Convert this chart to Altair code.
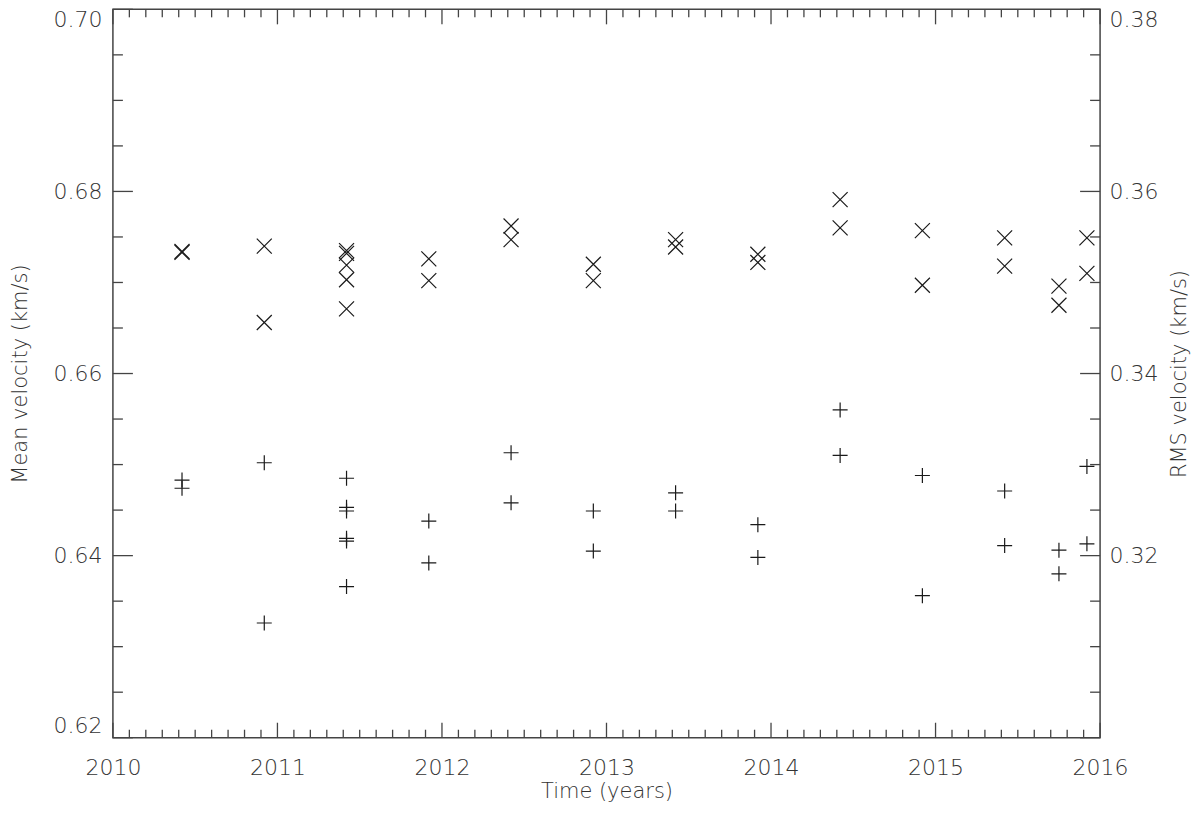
import altair as alt
import pandas as pd

# --- data ---
x_years = [2010.42, 2010.42,
           2010.92, 2010.92,
           2011.42, 2011.42, 2011.42, 2011.42, 2011.42,
           2011.92, 2011.92,
           2012.42, 2012.42,
           2012.92, 2012.92,
           2013.42, 2013.42,
           2013.92, 2013.92,
           2014.42, 2014.42,
           2014.92, 2014.92,
           2015.42, 2015.42,
           2015.75, 2015.75,
           2015.92, 2015.92]
mean_velocity = [0.6734, 0.6733,
                 0.6740, 0.6656,
                 0.6735, 0.6732, 0.6719, 0.6703, 0.6671,
                 0.6726, 0.6702,
                 0.6762, 0.6747,
                 0.6720, 0.6702,
                 0.6747, 0.6739,
                 0.6731, 0.6722,
                 0.6791, 0.6760,
                 0.6757, 0.6697,
                 0.6749, 0.6718,
                 0.6696, 0.6675,
                 0.6749, 0.6710]

p_years = [2010.42, 2010.42,
           2010.92, 2010.92,
           2011.42, 2011.42, 2011.42, 2011.42, 2011.42, 2011.42,
           2011.92, 2011.92,
           2012.42, 2012.42,
           2012.92, 2012.92,
           2013.42, 2013.42,
           2013.92, 2013.92,
           2014.42, 2014.42,
           2014.92, 2014.92,
           2015.42, 2015.42,
           2015.75, 2015.75,
           2015.92, 2015.92]
rms_velocity = [0.3283, 0.3274,
                0.3302, 0.3126,
                0.3285, 0.3253, 0.3249, 0.3219, 0.3216, 0.3166,
                0.3238, 0.3192,
                0.3313, 0.3258,
                0.3249, 0.3205,
                0.3269, 0.3249,
                0.3234, 0.3198,
                0.3360, 0.3310,
                0.3288, 0.3156,
                0.3271, 0.3211,
                0.3206, 0.3180,
                0.3298, 0.3213]

x_major = [2010, 2011, 2012, 2013, 2014, 2015, 2016]
x_minor = [round(y + k / 10, 1) for y in range(2010, 2016) for k in range(1, 10)]
y_major = [0.62, 0.64, 0.66, 0.68, 0.70]
y_minor = [0.625, 0.63, 0.635, 0.645, 0.65, 0.655, 0.665, 0.67, 0.675, 0.685, 0.69, 0.695]
rms_labels = [0.32, 0.34, 0.36, 0.38]

df_x = pd.DataFrame({"year": x_years, "mean": mean_velocity})
df_p = pd.DataFrame({"year": p_years, "rms": rms_velocity})
df_xmaj = pd.DataFrame({"year": x_major})
df_xmin = pd.DataFrame({"year": x_minor})
df_ymaj = pd.DataFrame({"mean": y_major})
df_ymin = pd.DataFrame({"mean": y_minor})

W, H = 988, 729
FONT = "DejaVu Sans"
AX = "#444444"
TXT = "#333333"
MK = "#1a1a1a"

xscale = alt.Scale(domain=[2010, 2016], nice=False, zero=False)
yscale = alt.Scale(domain=[0.62, 0.70], nice=False, zero=False)
rscale = alt.Scale(domain=[0.30, 0.38], nice=False, zero=False)

x_axis = alt.Axis(values=x_major, format="d", title="Time (years)",
                  ticks=False, tickSize=0, domain=False, grid=False,
                  labelPadding=20, labelFontSize=22, labelFlush=False,
                  titleFontSize=21, titleX=W / 2, titleY=54,
                  titleBaseline="middle", titleAlign="center")
y_axis = alt.Axis(values=y_major, format=".2f", orient="left",
                  title="Mean velocity (km/s)",
                  ticks=False, tickSize=0, domain=False, grid=False,
                  labelPadding=11, labelFontSize=22, labelFlush=True,
                  titleFontSize=21, titleAngle=270, titleX=-92, titleY=H / 2,
                  titleBaseline="middle", titleAlign="center")
r_axis = alt.Axis(values=rms_labels, format=".2f", orient="right",
                  title="RMS velocity (km/s)",
                  ticks=False, tickSize=0, domain=False, grid=False,
                  labelPadding=9, labelFontSize=22, labelFlush=True,
                  titleFontSize=21, titleAngle=270, titleX=79, titleY=H / 2,
                  titleBaseline="middle", titleAlign="center")

X_PATH = "M-1,-1L1,1M-1,1L1,-1"
P_PATH = "M-1,0L1,0M0,-1L0,1"

xs = alt.Chart(df_x).mark_point(
    shape=X_PATH, size=225, filled=False, stroke=MK, strokeWidth=1.2, opacity=1
).encode(
    x=alt.X("year:Q", scale=xscale, axis=x_axis),
    y=alt.Y("mean:Q", scale=yscale, axis=y_axis),
)

def yrule(df, x0, x1):
    return alt.Chart(df).mark_rule(color=AX, strokeWidth=1.3).encode(
        y=alt.Y("mean:Q", scale=yscale, axis=y_axis),
        x=alt.value(x0), x2=alt.value(x1))

def xrule(df, y0, y1):
    return alt.Chart(df).mark_rule(color=AX, strokeWidth=1.3).encode(
        x=alt.X("year:Q", scale=xscale, axis=x_axis),
        y=alt.value(y0), y2=alt.value(y1))

left = alt.layer(
    xs,
    yrule(df_ymaj, 0, 20), yrule(df_ymaj, W - 20, W),
    yrule(df_ymin, 0, 10), yrule(df_ymin, W - 10, W),
    xrule(df_xmaj, H - 15, H), xrule(df_xmaj, 0, 15),
    xrule(df_xmin, H - 8, H), xrule(df_xmin, 0, 8),
)

plus = alt.Chart(df_p).mark_point(
    shape=P_PATH, size=225, filled=False, stroke=MK, strokeWidth=1.2, opacity=1
).encode(
    x=alt.X("year:Q", scale=xscale, axis=x_axis),
    y=alt.Y("rms:Q", scale=rscale, axis=r_axis),
)

chart = alt.layer(left, plus).resolve_scale(y="independent").properties(
    width=W, height=H,
    autosize=alt.AutoSizeParams(type="none"),
    padding={"left": 105, "top": 1, "right": 92, "bottom": 67},
    background="white",
).configure_view(
    stroke=AX, strokeWidth=1.5
).configure_axis(
    labelFont=FONT, titleFont=FONT, labelColor=TXT, titleColor=TXT,
    labelFontWeight=300, titleFontWeight=300,
)

chart.save("out.html", embed_options={"renderer": "svg", "actions": False})
